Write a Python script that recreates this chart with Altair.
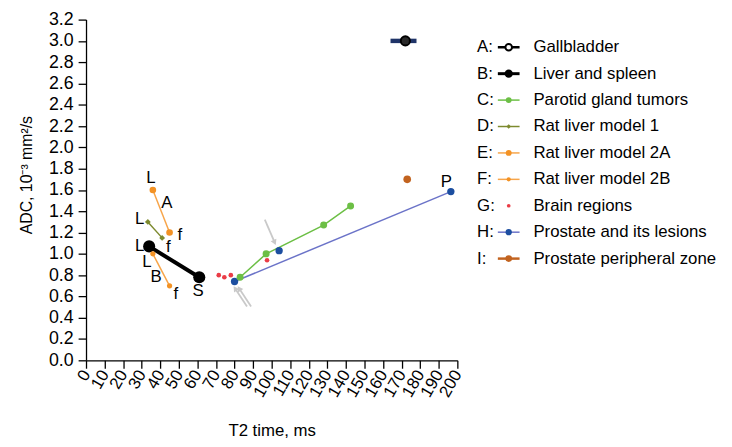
import altair as alt
import pandas as pd

FONT = "Liberation Sans"

# ---- data ----
# A: Gallbladder (point with horizontal range)
gb_x = [172.0]
gb_y = [3.0]
gb_lo = [164.0]
gb_hi = [178.0]
# B: Liver and spleen
ls_x = [34.0, 61.0]
ls_y = [1.07, 0.78]
# C: Parotid gland tumors
pg_x = [83.0, 97.0, 128.0, 142.5]
pg_y = [0.78, 1.00, 1.27, 1.45]
# D: Rat liver model 1
r1_x = [33.3, 41.0]
r1_y = [1.30, 1.15]
# E: Rat liver model 2A
r2a_x = [36.0, 45.0]
r2a_y = [1.60, 1.20]
# F: Rat liver model 2B
r2b_x = [36.0, 45.0]
r2b_y = [1.00, 0.70]
# G: Brain regions
br_x = [71.5, 74.5, 78.0, 97.5]
br_y = [0.80, 0.78, 0.80, 0.94]
# H: Prostate and its lesions
pr_x = [80.0, 104.0, 196.5]
pr_y = [0.74, 1.03, 1.585]
pr_line_x = [80.0, 196.5]
pr_line_y = [0.74, 1.585]
# I: Prostate peripheral zone
pz_x = [173.0]
pz_y = [1.70]

# annotation letters (data coordinates)
ann_text = ["L", "A", "f", "L", "f", "L", "L", "B", "f", "S", "P"]
ann_x = [34.9, 43.5, 50.5, 28.9, 44.3, 28.9, 32.8, 37.8, 48.4, 60.3, 194.1]
ann_y = [1.709, 1.48, 1.174, 1.323, 1.06, 1.075, 0.921, 0.782, 0.627, 0.649, 1.677]

# grey arrows (tail -> tip)
arr_x = [96.3, 86.7, 88.9]
arr_y = [1.322, 0.505, 0.505]
arr_x2 = [101.6, 80.3, 82.5]
arr_y2 = [1.107, 0.674, 0.674]
arr_ang = [156, 326, 326]

x_ticks = list(range(0, 201, 10))
y_ticks = [round(i * 0.2, 1) for i in range(17)]

leg_keys = ["A:", "B:", "C:", "D:", "E:", "F:", "G:", "H:", "I:"]
leg_names = ["Gallbladder", "Liver and spleen", "Parotid gland tumors",
             "Rat liver model 1", "Rat liver model 2A", "Rat liver model 2B",
             "Brain regions", "Prostate and its lesions", "Prostate peripheral zone"]

# colours
C_NAVY = "#1f3468"
C_GREEN = "#6cbf45"
C_OLIVE = "#7d8a2e"
C_ORANGE = "#f7a54a"
C_ORANGE_PT = "#f39224"
C_RED = "#ea3c46"
C_BLUE_LINE = "#6b73c8"
C_BLUE = "#1c4ea0"
C_BROWN = "#c2631f"
C_GREY = "#c9c9c9"

leg_line_c = ["black", "black", C_GREEN, C_OLIVE, C_ORANGE, C_ORANGE, None, C_BLUE_LINE, C_BROWN]
leg_pt_c = ["black", "black", C_GREEN, C_OLIVE, C_ORANGE_PT, C_ORANGE_PT, C_RED, C_BLUE, C_BROWN]
leg_lw = [2.5, 3.0, 1.5, 1.5, 1.5, 1.5, 0, 1.5, 2.5]
leg_ps = [50, 70, 35, 22, 35, 18, 14, 40, 45]
leg_shape = ["circle", "circle", "circle", "diamond", "circle", "circle", "circle", "circle", "circle"]

# ---- encodings ----
XS = alt.Scale(domain=[0, 200], nice=False, zero=True)
YS = alt.Scale(domain=[0, 3.2], nice=False, zero=True)

X = alt.X("x:Q", scale=XS, axis=alt.Axis(
    title="T2 time, ms", values=x_ticks, format="d", labelAngle=300,
    labelOverlap=False, labelFlush=False, labelBound=False,
    labelPadding=3, tickSize=8, titleFontSize=17, labelFontSize=17,
    titleY=76, titleBaseline="alphabetic", titleFontWeight="normal"))
Y = alt.Y("y:Q", scale=YS, axis=alt.Axis(
    title="ADC, 10⁻³ mm²/s", values=y_ticks, format=".1f",
    labelOverlap=False, labelFlush=False, labelBound=False,
    tickSize=8, labelPadding=5, titleFontSize=16, labelFontSize=18,
    titleX=-60, titleY=157, titleBaseline="middle", titleFontWeight="normal"))


def df(xs, ys):
    return pd.DataFrame({"x": xs, "y": ys})


gb_df = pd.DataFrame({"x": gb_lo, "x2": gb_hi, "y": gb_y})
arr_df = pd.DataFrame({"x": arr_x, "y": arr_y, "x2": arr_x2, "y2": arr_y2})
tip_df = pd.DataFrame({"x": arr_x2, "y": arr_y2, "ang": arr_ang})
ann_df = pd.DataFrame({"x": ann_x, "y": ann_y, "t": ann_text})

layers = [
    alt.Chart(gb_df).mark_rule(color=C_NAVY, strokeWidth=4.5).encode(x=X, x2="x2:Q", y=Y),
    alt.Chart(df(gb_x, gb_y)).mark_point(shape="circle", filled=True, fill="#2a2a2a",
                                          stroke="black", strokeWidth=2, size=85, opacity=1).encode(x=X, y=Y),
    alt.Chart(arr_df).mark_rule(color=C_GREY, strokeWidth=1.8).encode(x=X, y=Y, x2="x2:Q", y2="y2:Q"),
    alt.Chart(tip_df).mark_point(shape="triangle-up", filled=True, color=C_GREY, size=40, opacity=1).encode(
        x=X, y=Y, angle=alt.Angle("ang:Q", scale=None)),
    alt.Chart(df(ls_x, ls_y)).mark_line(color="black", strokeWidth=4).encode(x=X, y=Y),
    alt.Chart(df(ls_x, ls_y)).mark_circle(color="black", size=150, opacity=1).encode(x=X, y=Y),
    alt.Chart(df(r1_x, r1_y)).mark_line(color=C_OLIVE, strokeWidth=1.5).encode(x=X, y=Y),
    alt.Chart(df(r1_x, r1_y)).mark_point(shape="diamond", filled=True, color=C_OLIVE, size=35, opacity=1).encode(x=X, y=Y),
    alt.Chart(df(r2a_x, r2a_y)).mark_line(color=C_ORANGE, strokeWidth=1.5).encode(x=X, y=Y),
    alt.Chart(df(r2a_x, r2a_y)).mark_circle(color=C_ORANGE_PT, size=45, opacity=1).encode(x=X, y=Y),
    alt.Chart(df(r2b_x, r2b_y)).mark_line(color=C_ORANGE, strokeWidth=1.5).encode(x=X, y=Y),
    alt.Chart(df(r2b_x, r2b_y)).mark_circle(color=C_ORANGE_PT, size=28, opacity=1).encode(x=X, y=Y),
    alt.Chart(df(br_x, br_y)).mark_circle(color=C_RED, size=22, opacity=1).encode(x=X, y=Y),
    alt.Chart(df(pg_x, pg_y)).mark_line(color=C_GREEN, strokeWidth=1.5).encode(x=X, y=Y),
    alt.Chart(df(pr_line_x, pr_line_y)).mark_line(color=C_BLUE_LINE, strokeWidth=1.5).encode(x=X, y=Y),
    alt.Chart(df(pr_x, pr_y)).mark_circle(color=C_BLUE, size=55, opacity=1).encode(x=X, y=Y),
    alt.Chart(df(pg_x, pg_y)).mark_circle(color=C_GREEN, size=50, opacity=1).encode(x=X, y=Y),
    alt.Chart(df(pz_x, pz_y)).mark_circle(color=C_BROWN, size=60, opacity=1).encode(x=X, y=Y),
    alt.Chart(ann_df).mark_text(font=FONT, fontSize=17, color="black", align="center",
                                baseline="middle").encode(x=X, y=Y, text="t:N"),
]

main = alt.layer(*layers).properties(width=376, height=345)

# ---- custom legend panel ----
leg_df = pd.DataFrame({
    "key": leg_keys, "name": leg_names, "lc": leg_line_c, "pc": leg_pt_c,
    "lw": leg_lw, "ps": leg_ps, "shape": leg_shape,
})
LY = alt.Y("key:N", scale=alt.Scale(type="point", domain=leg_keys, range=[28, 242], padding=0), axis=None)
leg_line_df = leg_df[leg_df["lw"] > 0]
leg_pt_df = leg_df[leg_df["key"] != "A:"]
leg_open_df = leg_df[leg_df["key"] == "A:"]

legend = alt.layer(
    alt.Chart(leg_df).mark_text(font=FONT, fontSize=17, color="black", align="left", baseline="middle").encode(
        x=alt.value(0), y=LY, text="key:N"),
    alt.Chart(leg_line_df).mark_rule().encode(
        x=alt.value(21), x2=alt.value(43), y=LY,
        color=alt.Color("lc:N", scale=None), strokeWidth=alt.StrokeWidth("lw:Q", scale=None)),
    alt.Chart(leg_pt_df).mark_point(filled=True, opacity=1).encode(
        x=alt.value(32), y=LY, color=alt.Color("pc:N", scale=None),
        size=alt.Size("ps:Q", scale=None), shape=alt.Shape("shape:N", scale=None)),
    alt.Chart(leg_open_df).mark_point(shape="circle", filled=True, fill="white", stroke="black",
                                      strokeWidth=2, size=45, opacity=1).encode(x=alt.value(32), y=LY),
    alt.Chart(leg_df).mark_text(font=FONT, fontSize=17, color="black", align="left", baseline="middle").encode(
        x=alt.value(57), y=LY, text="name:N"),
).properties(width=250, height=345)

chart = alt.hconcat(main, legend, spacing=13).properties(
    padding={"left": 11, "top": 0, "right": 0, "bottom": 5}
).configure_view(stroke=None).configure_axis(
    grid=False, domainColor="black", tickColor="black", labelColor="black", titleColor="black",
    labelFont=FONT, titleFont=FONT, domainWidth=1.3, tickWidth=1.3
)

chart.save("out.html", embed_options={"renderer": "svg", "actions": False})
